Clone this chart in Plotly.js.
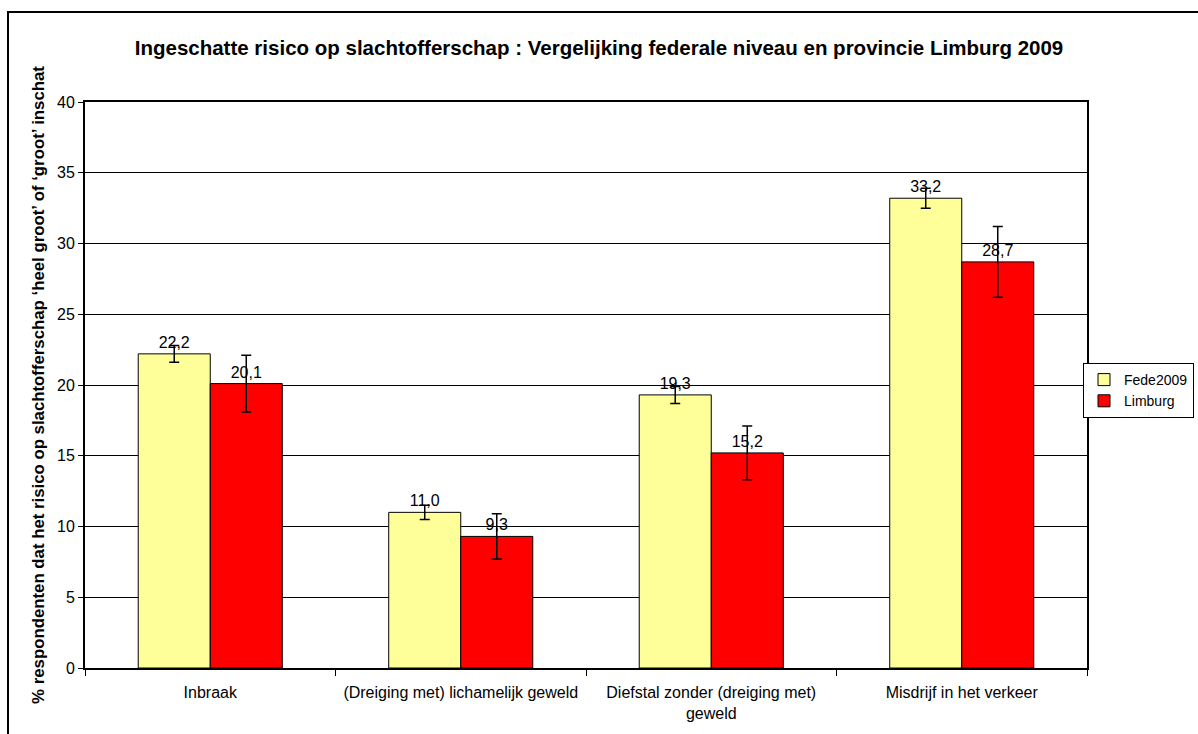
<!DOCTYPE html>
<html>
<head>
<meta charset="utf-8">
<script src="https://cdn.plot.ly/plotly-3.0.1.min.js"></script>
<style>
html,body{margin:0;padding:0;background:#fff;}
#chart{width:1198px;height:734px;}
</style>
</head>
<body>
<div id="chart"></div>
<script>
const categories = ["Inbraak", "(Dreiging met) lichamelijk geweld", "Diefstal zonder (dreiging met)<br>geweld", "Misdrijf in het verkeer"];
const fedeValues = [22.2, 11.0, 19.3, 33.2];
const fedeErrors = [0.6, 0.5, 0.6, 0.7];
const limburgValues = [20.1, 9.3, 15.2, 28.7];
const limburgErrors = [2.0, 1.6, 1.9, 2.5];
const yTicks = [0, 5, 10, 15, 20, 25, 30, 35, 40];

function fmt(v){ return v.toFixed(1).replace('.', ','); }

const labelFont = {family: 'Liberation Sans, Arial, sans-serif', size: 16, color: '#000'};

const traces = [
  {
    type: 'bar', name: 'Fede2009', x: categories, y: fedeValues,
    marker: {color: '#FFFF99', line: {color: '#000', width: 1}},
    error_y: {type: 'data', array: fedeErrors, visible: true, color: '#000', thickness: 1.5, width: 5},
    text: fedeValues.map(fmt), textposition: 'outside', cliponaxis: false,
    textfont: labelFont
  },
  {
    type: 'bar', name: 'Limburg', x: categories, y: limburgValues,
    marker: {color: '#FF0000', line: {color: '#000', width: 1}},
    error_y: {type: 'data', array: limburgErrors, visible: true, color: '#000', thickness: 1.5, width: 5},
    text: limburgValues.map(fmt), textposition: 'outside', cliponaxis: false,
    textfont: labelFont
  }
];

const layout = {
  width: 1198, height: 734,
  margin: {l: 85, r: 111, t: 102, b: 66, autoexpand: false},
  paper_bgcolor: '#fff', plot_bgcolor: '#fff',
  font: {family: 'Liberation Sans, Arial, sans-serif', size: 15, color: '#000'},
  barmode: 'group', bargap: 0.425, bargroupgap: 0,
  showlegend: true,
  title: {
    text: '<b>Ingeschatte risico op slachtofferschap : Vergelijking federale niveau en provincie Limburg 2009</b>',
    font: {size: 20.5, color: '#000'},
    x: 0.5, xref: 'container', y: 1 - 48/734, yref: 'container', xanchor: 'center', yanchor: 'middle'
  },
  xaxis: {
    type: 'category', tickson: 'boundaries', ticks: 'outside', ticklen: 6, tickcolor: '#000', tickwidth: 1,
    showline: true, linecolor: '#000', linewidth: 2, mirror: true,
    showgrid: false, tickfont: {size: 16}, automargin: false, ticklabelstandoff: 9
  },
  yaxis: {
    range: [0, 40], tickvals: yTicks, ticks: 'outside', ticklen: 5, tickcolor: '#000', tickwidth: 1,
    showline: true, linecolor: '#000', linewidth: 2, mirror: true,
    showgrid: true, gridcolor: '#000', gridwidth: 1, zeroline: false,
    tickfont: {size: 16}, automargin: false,
    title: {text: '<b>% respondenten dat het risico op slachtofferschap ‘heel groot’ of ‘groot’ inschat</b>', font: {size: 16.8}, standoff: 8}
  },
  legend: {
    xref: 'container', yref: 'container',
    x: 1194/1198, xanchor: 'right', y: 1 - 363/734, yanchor: 'top',
    bordercolor: '#000', borderwidth: 1, bgcolor: '#fff',
    font: {size: 14}, tracegroupgap: 0, itemwidth: 30
  },
  shapes: [
    {type: 'rect', xref: 'paper', yref: 'paper', x0: (8-85)/1002, x1: 1.25, y0: -0.3, y1: (668-12)/566,
     line: {color: '#000', width: 2}, fillcolor: 'rgba(0,0,0,0)', layer: 'above'}
  ]
};

Plotly.newPlot('chart', traces, layout, {displayModeBar: false, staticPlot: true});
</script>
</body>
</html>
